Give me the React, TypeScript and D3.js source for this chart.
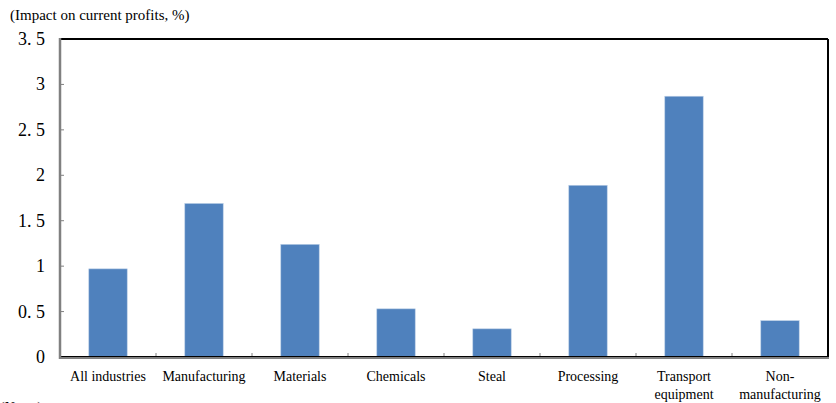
import React from "react";
import * as d3 from "d3";

const categories: string[][] = [
  ["All industries"],
  ["Manufacturing"],
  ["Materials"],
  ["Chemicals"],
  ["Steal"],
  ["Processing"],
  ["Transport", "equipment"],
  ["Non-", "manufacturing"],
];
const values: number[] = [0.97, 1.69, 1.24, 0.53, 0.31, 1.89, 2.87, 0.4];
const yTicks: number[] = [0, 0.5, 1, 1.5, 2, 2.5, 3, 3.5];
const yTickLabels: string[] = ["0", "0. 5", "1", "1. 5", "2", "2. 5", "3", "3. 5"];
const unitLabel = "(Impact on current profits, %)";

const W = 836;
const H = 403;
const left = 60;
const right = 828;
const top = 39;
const bottom = 357;
const serif = { fontFamily: '"Liberation Serif"' };

export default function App() {
  const x = d3
    .scaleBand<number>()
    .domain(d3.range(categories.length))
    .range([left, right])
    .paddingInner(0)
    .paddingOuter(0);
  const y = d3.scaleLinear().domain([0, 3.5]).range([bottom, top]);
  const bw = x.bandwidth() * 0.4;

  return (
    <svg
      width={W}
      height={H}
      style={{ position: "absolute", left: 0, top: 0, background: "#fff" }}
    >
      <text x={10} y={20} style={serif} fontSize={15} fill="#000">
        {unitLabel}
      </text>

      {values.map((v, i) => {
        const cx = (x(i) as number) + x.bandwidth() / 2;
        return (
          <rect
            key={i}
            x={cx - bw / 2}
            y={y(v)}
            width={bw}
            height={y(0) - y(v)}
            fill="#4f81bd"
            stroke="#b9cde5"
            strokeWidth={0.6}
          />
        );
      })}

      {/* y tick marks and labels */}
      {yTicks.map((t, i) => (
        <g key={t}>
          {i > 0 && i < yTicks.length - 1 && (
            <line x1={left} x2={left + 4} y1={y(t)} y2={y(t)} stroke="#808080" strokeWidth={1} />
          )}
          <text
            x={45}
            y={y(t) + 6}
            textAnchor="end"
            style={serif}
            fontSize={18}
            fill="#000"
          >
            {yTickLabels[i]}
          </text>
        </g>
      ))}

      {/* category separators on the baseline */}
      {categories.slice(1).map((_, i) => {
        const xx = x(i + 1) as number;
        return <line key={i} x1={xx} x2={xx} y1={bottom} y2={bottom - 4} stroke="#808080" strokeWidth={1} />;
      })}

      {/* frame */}
      <line x1={left} x2={right} y1={top} y2={top} stroke="#000" strokeWidth={2} />
      <line x1={right} x2={right} y1={top} y2={bottom} stroke="#000" strokeWidth={2} />
      <line x1={left} x2={right} y1={bottom - 0.5} y2={bottom - 0.5} stroke="#000" strokeWidth={1} />
      <line x1={left} x2={right + 1} y1={bottom + 1} y2={bottom + 1} stroke="#808080" strokeWidth={2} />
      <line x1={left} x2={left} y1={top - 1} y2={bottom + 2} stroke="#808080" strokeWidth={2.5} />

      {/* category labels */}
      {categories.map((lines, i) => {
        const cx = (x(i) as number) + x.bandwidth() / 2;
        return (
          <text key={i} textAnchor="middle" style={serif} fontSize={14} fill="#000">
            {lines.map((ln, j) => (
              <tspan key={j} x={cx} y={381 + j * 18}>
                {ln}
              </tspan>
            ))}
          </text>
        );
      })}

      <text x={0} y={412} style={serif} fontSize={14} fill="#000">
        (Notes)
      </text>
    </svg>
  );
}
